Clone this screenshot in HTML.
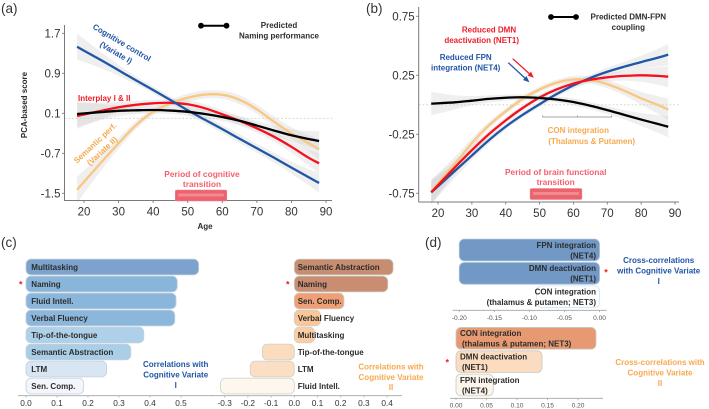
<!DOCTYPE html>
<html lang="en">
<head>
<meta charset="utf-8">
<title>Cognitive and brain functional transition chart</title>
<style>
html,body{margin:0;padding:0;background:#fff;width:709px;height:409px;overflow:hidden}
svg{display:block;font-family:"Liberation Sans",sans-serif;filter:blur(.3px)}
.b{font-weight:700;font-size:8px;fill:#2c2c2c}
.m{text-anchor:middle}
.blue{fill:#2155a5}
.red{fill:#f01c2a}
.org{fill:#f7a94e}
.pink{fill:#f35f6e;font-size:8.4px}
.pl{font-size:13.5px;fill:#333}
.star{font-size:9px;fill:#f01c2a;text-anchor:middle;font-weight:700}
</style>
</head>
<body>
<svg id="chart" width="709" height="409" viewBox="0 0 709 409" xmlns="http://www.w3.org/2000/svg">
<g id="layer-a"></g>
<g id="layer-b"></g>
<g id="layer-c"></g>
<g id="layer-d"></g>

<text class="pl" x="1" y="13">(a)</text>
<text class="pl" x="366" y="13">(b)</text>
<text class="pl" x="1" y="247">(c)</text>
<text class="pl" x="425" y="247">(d)</text>

<text class="b m" transform="translate(27,105) rotate(-90)">PCA-based score</text>
<text class="b m" x="205" y="229">Age</text>

<g>
<line x1="201" y1="25.7" x2="226.5" y2="25.7" stroke="#000" stroke-width="2"/>
<circle cx="201" cy="25.7" r="2.9" fill="#000"/><circle cx="226.5" cy="25.7" r="2.9" fill="#000"/>
<text class="b m" x="279" y="28">Predicted</text>
<text class="b m" x="279" y="38.5">Naming performance</text>
</g>
<text class="b blue m" font-size="8.4" transform="translate(120.5,45) rotate(30.5)">Cognitive control</text>
<text class="b blue m" transform="translate(114.7,55) rotate(30.5)">(Variate I)</text>
<text class="b red" x="78" y="101">Interplay I &amp; II</text>
<text class="b org m" transform="translate(97,145) rotate(-43)">Semantic perf.</text>
<text class="b org m" transform="translate(104,153) rotate(-43)">(Variate II)</text>
<text class="b pink m" x="202" y="177">Period of cognitive</text>
<text class="b pink m" x="202" y="187">transition</text>

<g>
<line x1="551" y1="17" x2="576" y2="17" stroke="#000" stroke-width="2"/>
<circle cx="551" cy="17" r="2.9" fill="#000"/><circle cx="576" cy="17" r="2.9" fill="#000"/>
<text class="b m" x="628.3" y="19.5">Predicted DMN-FPN</text>
<text class="b m" x="628.3" y="30">coupling</text>
</g>
<text class="b red m" x="489" y="32.3">Reduced DMN</text>
<text class="b red m" x="481.7" y="43">deactivation (NET1)</text>
<text class="b blue m" x="465.7" y="60">Reduced FPN</text>
<text class="b blue m" x="465.7" y="70.5">integration (NET4)</text>
<g>
<line x1="512.7" y1="58.7" x2="531.5" y2="75.6" stroke="#f01c2a" stroke-width="1.3"/>
<path d="M533.8 77.8 L527.6 75.6 L531 71.6 Z" fill="#f01c2a"/>
</g>
<g>
<line x1="508.3" y1="62.7" x2="527" y2="80" stroke="#2155a5" stroke-width="1.3"/>
<path d="M529.4 82.3 L523 80 L526.5 76 Z" fill="#2155a5"/>
</g>
<path d="M542.7 115.5 V117 H611.7 V115.5 M577.5 117 V115.5" fill="none" stroke="#888" stroke-width=".8"/>
<text class="b org m" font-size="8.2" x="578.3" y="133">CON integration</text>
<text class="b org m" x="591.7" y="144">(Thalamus &amp; Putamen)</text>
<text class="b pink m" x="555.7" y="175">Period of brain functional</text>
<text class="b pink m" x="555.7" y="185">transition</text>

<text class="star" x="20.7" y="287.5">*</text>
<text class="star" x="287.7" y="287.5">*</text>
<text class="star" x="606" y="275.5">*</text>
<text class="star" x="447.3" y="365.5">*</text>

<g>
<text class="b blue m" x="175.7" y="367">Correlations with</text>
<text class="b blue m" x="175.7" y="377.5">Cognitive Variate</text>
<text class="b blue m" x="175.7" y="388">I</text>
</g>
<g>
<text class="b org m" x="391" y="369.5">Correlations with</text>
<text class="b org m" x="391" y="380">Cognitive Variate</text>
<text class="b org m" x="391" y="390">II</text>
</g>
<g>
<text class="b blue m" x="658.7" y="263">Cross-correlations</text>
<text class="b blue m" x="658.7" y="273.5">with Cognitive Variate</text>
<text class="b blue m" x="658.7" y="284">I</text>
</g>
<g>
<text class="b org m" x="660" y="365">Cross-correlations with</text>
<text class="b org m" x="660" y="375.5">Cognitive Variate</text>
<text class="b org m" x="660" y="386">II</text>
</g>
</svg>

<script>
// ---- line chart data ----
const ages = [18,25,30,35,40,45,50,55,60,65,70,75,80,85,88];
const xTickAges = [20,30,40,50,60,70,80,90];

const aTickLabels = ['1.7','0.9','0.1','-0.7','-1.5'];
const aCognitive = [1.43,1.16,0.96,0.76,0.566,0.366,0.16,-0.03,-0.216,-0.41,-0.60,-0.79,-0.986,-1.18,-1.294];
const aInterplay = [0.046,0.15,0.22,0.27,0.30,0.31,0.28,0.20,0.08,-0.05,-0.20,-0.37,-0.57,-0.79,-0.90];
const aSemantic = [-1.43,-0.88,-0.50,-0.14,0.13,0.30,0.41,0.475,0.47,0.37,0.18,-0.07,-0.30,-0.50,-0.62];
const aNaming = [0.086,0.125,0.15,0.16,0.166,0.155,0.13,0.085,0.025,-0.05,-0.145,-0.245,-0.34,-0.415,-0.454];
const aError = [0.26,0.16,0.11,0.08,0.07,0.07,0.08,0.08,0.08,0.09,0.09,0.10,0.12,0.16,0.20];
const aPeriod = [46.4,61.3];

const bTickLabels = ['0.75','0.25','-0.25','-0.75'];
const bFpn = [-0.742,-0.56,-0.43,-0.30,-0.185,-0.085,0.005,0.09,0.165,0.228,0.28,0.323,0.362,0.40,0.425];
const bDmn = [-0.742,-0.53,-0.385,-0.25,-0.132,-0.027,0.062,0.13,0.18,0.212,0.233,0.245,0.25,0.245,0.238];
const bCon = [-0.734,-0.50,-0.325,-0.175,-0.055,0.05,0.13,0.187,0.215,0.21,0.175,0.12,0.055,-0.002,-0.04];
const bCoupling = [0.01,0.021,0.035,0.05,0.06,0.064,0.058,0.045,0.024,-0.008,-0.045,-0.085,-0.125,-0.163,-0.186];
const bError = [0.10,0.06,0.04,0.03,0.025,0.025,0.025,0.025,0.03,0.03,0.035,0.04,0.055,0.075,0.09];
const bPeriod = [47.2,62.5];

// ---- bar chart data ----
const cLeftLabels = ['Multitasking','Naming','Fluid Intell.','Verbal Fluency','Tip-of-the-tongue','Semantic Abstraction','LTM','Sen. Comp.'];
const cLeftValues = [0.557,0.488,0.484,0.48,0.38,0.338,0.26,0.186];
const cLeftTicks = ['0.0','0.1','0.2','0.3','0.4','0.5'];

const cRightLabels = ['Semantic Abstraction','Naming','Sen. Comp.','Verbal Fluency','Multitasking','Tip-of-the-tongue','LTM','Fluid Intell.'];
const cRightValues = [0.426,0.403,0.214,0.113,0.087,-0.138,-0.19,-0.318];
const cRightTicks = ['-0.3','-0.2','-0.1','0.0','0.1','0.2','0.3','0.4'];

const dTopLine1 = ['FPN integration','DMN deactivation','CON integration'];
const dTopLine2 = ['(NET4)','(NET1)','(thalamus & putamen; NET3)'];
const dTopValues = [-0.2,-0.2,-0.09];
const dTopTicks = ['-0.20','-0.15','-0.10','-0.05','0.00'];

const dBottomLine1 = ['CON integration','DMN deactivation','FPN integration'];
const dBottomLine2 = ['(thalamus & putamen; NET3)','(NET1)','(NET4)'];
const dBottomValues = [0.2295,0.141,0.061];
const dBottomTicks = ['0.00','0.05','0.10','0.15','0.20'];

// ---- helpers ----
const NS = 'http://www.w3.org/2000/svg';
function mk(parent, tag, attrs, txt) {
  const el = document.createElementNS(NS, tag);
  for (const k in attrs) el.setAttribute(k, attrs[k]);
  if (txt !== undefined) el.textContent = txt;
  parent.appendChild(el);
  return el;
}
function linear(d0, d1, r0, r1) {
  return v => r0 + (v - d0) * (r1 - r0) / (d1 - d0);
}
function slopes(pts) {
  return pts.map((p, i) => {
    const a = pts[Math.max(i - 1, 0)], b = pts[Math.min(i + 1, pts.length - 1)];
    return (b[1] - a[1]) / (b[0] - a[0]);
  });
}
function smoothSeg(pts) {
  const m = slopes(pts);
  let d = '';
  for (let i = 0; i < pts.length - 1; i++) {
    const p1 = pts[i], p2 = pts[i + 1], h = (p2[0] - p1[0]) / 3;
    d += ' C' + (p1[0] + h).toFixed(2) + ' ' + (p1[1] + m[i] * h).toFixed(2) + ' ' +
      (p2[0] - h).toFixed(2) + ' ' + (p2[1] - m[i + 1] * h).toFixed(2) + ' ' +
      p2[0].toFixed(2) + ' ' + p2[1].toFixed(2);
  }
  return d;
}
function linePath(xs, ys, X, Y) {
  const pts = xs.map((x, i) => [X(x), Y(ys[i])]);
  return 'M' + pts[0][0].toFixed(2) + ' ' + pts[0][1].toFixed(2) + smoothSeg(pts);
}
function bandPath(xs, ys, err, X, Y) {
  const up = xs.map((x, i) => [X(x), Y(ys[i] + err[i])]);
  const lo = xs.map((x, i) => [X(x), Y(ys[i] - err[i])]).reverse();
  return 'M' + up[0][0].toFixed(2) + ' ' + up[0][1].toFixed(2) + smoothSeg(up) +
    ' L' + lo[0][0].toFixed(2) + ' ' + lo[0][1].toFixed(2) + smoothSeg(lo) + ' Z';
}
function mix(a, b, t) {
  const pa = [1, 3, 5].map(i => parseInt(a.substr(i, 2), 16));
  const pb = [1, 3, 5].map(i => parseInt(b.substr(i, 2), 16));
  return 'rgb(' + pa.map((c, i) => Math.round(c + (pb[i] - c) * t)).join(',') + ')';
}
function ramp(stops, v) {
  if (v <= stops[0][0]) return stops[0][1];
  for (let i = 1; i < stops.length; i++) {
    if (v <= stops[i][0]) return mix(stops[i - 1][1], stops[i][1], (v - stops[i - 1][0]) / (stops[i][0] - stops[i - 1][0]));
  }
  return stops[stops.length - 1][1];
}

// ---- line panels ----
function drawLinePanel(g, cfg) {
  const X = linear(20, 90, cfg.x20, cfg.x90);
  const Y = cfg.Y;
  cfg.series.forEach(s => {
    const band = mk(g, 'path', { d: bandPath(ages, s.values, cfg.err, X, Y), fill: '#cfcfcf', 'fill-opacity': 0.33 });
    
    
  });
  const zero = mk(g, 'line', { x1: cfg.left, x2: cfg.right + 2, y1: Y(0), y2: Y(0), stroke: '#cfcfcf', 'stroke-width': 0.9, 'stroke-dasharray': '1.8 2' });
  
  
  cfg.series.forEach(s => {
    const line = mk(g, 'path', { d: linePath(ages, s.values, X, Y), fill: 'none', stroke: s.color, 'stroke-width': 2.3, 'stroke-linecap': 'butt' });
    
    
  });
  const axis = mk(g, 'path', { d: 'M' + cfg.left + ' ' + cfg.top + ' V' + cfg.bottom + ' H' + cfg.right, fill: 'none', stroke: '#7a7a7a', 'stroke-width': 1 });
  
  
  xTickAges.forEach(t => {
    mk(g, 'line', { x1: X(t), x2: X(t), y1: cfg.bottom, y2: cfg.bottom + 2.5, stroke: '#7a7a7a', 'stroke-width': 0.9 });
    const lab = mk(g, 'text', { x: X(t), y: cfg.bottom + 15, 'text-anchor': 'middle', 'font-size': 11.5, fill: '#333' }, t);
    
    
  });
  cfg.ticks.forEach(t => {
    const v = parseFloat(t);
    mk(g, 'line', { x1: cfg.left - 2.5, x2: cfg.left, y1: Y(v), y2: Y(v), stroke: '#7a7a7a', 'stroke-width': 0.9 });
    const lab = mk(g, 'text', { x: cfg.left - 4, y: Y(v) + 4.2, 'text-anchor': 'end', 'font-size': 11.5, fill: '#333' }, t);
    
    
  });
  const bx0 = X(cfg.period[0]), bx1 = X(cfg.period[1]);
  const box = mk(g, 'rect', { x: bx0, y: cfg.py, width: bx1 - bx0, height: 11, rx: 1.5, fill: '#ec636e', stroke: '#e0868c', 'stroke-width': 0.6 });
  
  
  const inner = mk(g, 'rect', { x: bx0 + 3, y: cfg.py + 3.5, width: bx1 - bx0 - 6, height: 3, fill: '#f28a92' });
  
  
}

drawLinePanel(document.getElementById('layer-a'), {
  x20: 84, x90: 326, left: 64.5, right: 332, top: 25, bottom: 200.5,
  Y: linear(0.1, -1.5, 113.3, 193.3), err: aError, ticks: aTickLabels, period: aPeriod, py: 190,
  series: [
    { name: 'semantic-performance', values: aSemantic, color: '#fbc67f' },
    { name: 'interplay', values: aInterplay, color: '#f5101e' },
    { name: 'cognitive-control', values: aCognitive, color: '#1f56a5' },
    { name: 'naming-performance', values: aNaming, color: '#000000' }
  ]
});
drawLinePanel(document.getElementById('layer-b'), {
  x20: 438, x90: 675, left: 418.7, right: 679, top: 7, bottom: 202,
  Y: linear(0.25, -0.75, 75.3, 193.3), err: bError, ticks: bTickLabels, period: bPeriod, py: 188.5,
  series: [
    { name: 'con-integration', values: bCon, color: '#fbc67f' },
    { name: 'fpn-integration', values: bFpn, color: '#1f56a5' },
    { name: 'dmn-deactivation', values: bDmn, color: '#f5101e' },
    { name: 'dmn-fpn-coupling', values: bCoupling, color: '#000000' }
  ]
});

// ---- bar panels ----
function drawAxis(g, y, x0, x1, X, ticks, size, color, dy) {
  const axis = mk(g, 'line', { x1: x0, x2: x1, y1: y, y2: y, stroke: '#a3a3a3', 'stroke-width': 0.9 });
  
  
  ticks.forEach(t => {
    const px = X(parseFloat(t));
    mk(g, 'line', { x1: px, x2: px, y1: y, y2: y + 1.8, stroke: '#a3a3a3', 'stroke-width': 0.7 });
    const lab = mk(g, 'text', { x: px, y: y + dy, 'text-anchor': 'middle', 'font-size': size, fill: color }, t);
    
    
  });
}
function drawBar(g, X, v, cy, h, fill, stroke) {
  const a = Math.min(X(0), X(v)), b = Math.max(X(0), X(v));
  const bar = mk(g, 'rect', { x: a, y: cy - h / 2, width: b - a, height: h, rx: 5, ry: 5, fill: fill, stroke: stroke, 'stroke-width': 0.8 });
  
  
}
function barLabel(g, x, y, txt, anchor) {
  const lab = mk(g, 'text', { x: x, y: y, 'text-anchor': anchor, class: 'b' }, txt);
  
  
}

const layerC = document.getElementById('layer-c');
const layerD = document.getElementById('layer-d');
const rowY = linear(0, 7, 267, 386);

const XcL = linear(0, 0.1, 26, 57);
const cLeftRamp = [[0.18, '#f5f7fb'], [0.26, '#d8e6f3'], [0.34, '#a9cde6'], [0.38, '#aed1e9'], [0.48, '#8cb7dc'], [0.56, '#7aa2cc']];
cLeftValues.forEach((v, i) => {
  drawBar(layerC, XcL, v, rowY(i), 15.7, ramp(cLeftRamp, v), '#c4d0dc');
  barLabel(layerC, 31.3, rowY(i) + 2.8, cLeftLabels[i], 'start');
});
drawAxis(layerC, 395.7, 18, 213, XcL, cLeftTicks, 8.3, '#333', 10.5);

const XcR = linear(0, 0.1, 294.3, 317.5);
const cRightRamp = [[-0.32, '#fdf7ef'], [-0.19, '#fbdfc4'], [0.09, '#fbcda2'], [0.113, '#fac798'], [0.214, '#ee9f75'], [0.4, '#c98d71'], [0.43, '#c78d71']];
cRightValues.forEach((v, i) => {
  drawBar(layerC, XcR, v, rowY(i), 15.7, ramp(cRightRamp, v), '#cfcfc8');
  barLabel(layerC, 297.7, rowY(i) + 2.8, cRightLabels[i], 'start');
});
drawAxis(layerC, 395.7, 212, 402, XcR, cRightTicks, 8.3, '#333', 10.5);

const XdT = linear(0, -0.2, 599.5, 459.3);
const dTopRow = linear(0, 2, 250, 296.7);
const dTopRamp = [[-0.2, '#7299c5'], [-0.09, '#ffffff']];
dTopValues.forEach((v, i) => {
  drawBar(layerD, XdT, v, dTopRow(i), 21.7, ramp(dTopRamp, v), i === 2 ? '#cfe4f6' : '#a9bfd6');
  barLabel(layerD, 596, dTopRow(i) - 2.2, dTopLine1[i], 'end');
  barLabel(layerD, 596, dTopRow(i) + 8.3, dTopLine2[i], 'end');
});
drawAxis(layerD, 310.3, 452.7, 606.7, XdT, dTopTicks, 6.6, '#555', 9.8);

const XdB = linear(0, 0.05, 456, 486.5);
const dBottomRow = linear(0, 2, 338.3, 385);
const dBottomRamp = [[0.06, '#fbf5ec'], [0.141, '#fbdcc0'], [0.23, '#e79a72']];
dBottomValues.forEach((v, i) => {
  drawBar(layerD, XdB, v, dBottomRow(i), 21.7, ramp(dBottomRamp, v), '#c9c9c4');
  barLabel(layerD, 460, dBottomRow(i) - 2.2, dBottomLine1[i], 'start');
  barLabel(layerD, 462, dBottomRow(i) + 8.3, dBottomLine2[i], 'start');
});
drawAxis(layerD, 398.3, 450, 603, XdB, dBottomTicks, 6.6, '#555', 9.2);
</script>
</body>
</html>
